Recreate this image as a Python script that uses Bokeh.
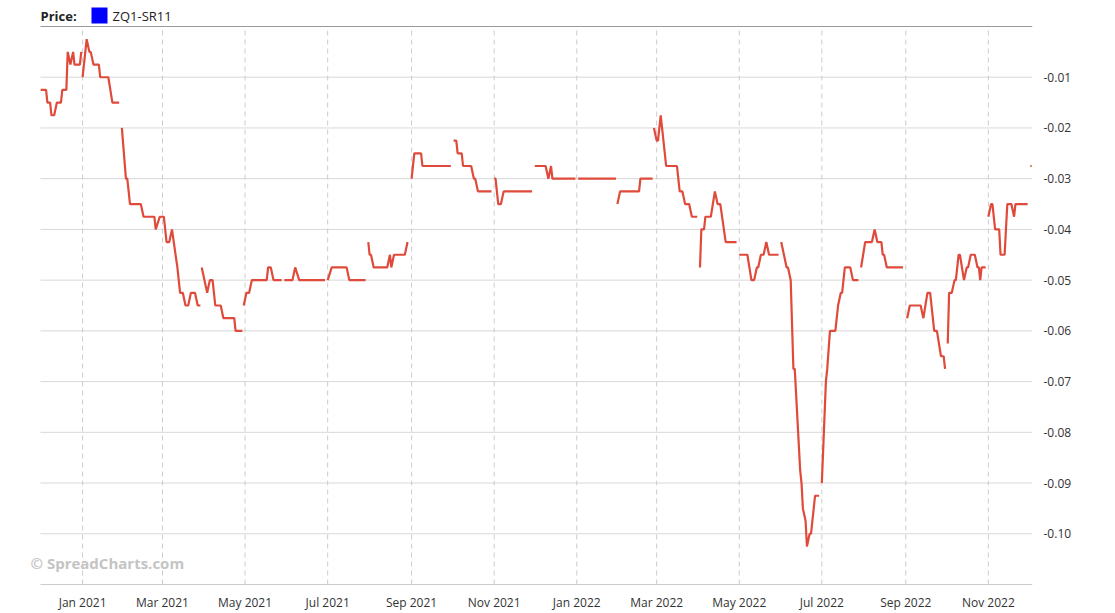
import numpy as np
import pandas as pd
from bokeh.plotting import figure
from bokeh.models import (Range1d, FixedTicker, NumeralTickFormatter, DatetimeTickFormatter,
                          Label, BoxAnnotation, ColumnDataSource)
from bokeh.embed import file_html
from bokeh.resources import INLINE

# ---------------- data ----------------
BASE_DATE = "2021-01-01"          # day offsets are counted from this date
G = None                          # gap marker (no quotes in the series)

day_offset = [
    -31, -27, -26, -24, -23, -21, -19, -16, -15, -12, -11, -9, -7, -6, -2, -1, G,
    0, 3, 5, 6, 8, 12, 13, 19, 22, 27, G,
    29, 32, 33, 35, 43, 45, 53, 54, 57, 60, 62, 64, 66, 70, 72, 74, 76, 78, 80, 83, 85, 87, G,
    88, 92, 94, 96, 98, 102, 104, 112, 113, 118, G,
    119, 121, 123, 125, 136, 137, 139, 141, 147, G,
    149, 155, 157, 160, 179, G,
    181, 184, 195, 197, 209, G,
    211, 212, 213, 215, 225, 227, 228, 230, 238, 240, G,
    243, 245, 250, 251, 272, G,
    274, 276, 277, 280, 281, 287, 289, 290, 292, 302, G,
    304, 305, 307, 309, 311, 332, G,
    334, 342, 344, 346, 347, 364, G,
    366, 394, G,
    395, 397, 411, 412, 421, G,
    422, 424, 425, 427, 428, 431, 439, 441, 443, 445, 448, 450, 454, G,
    456, 457, 459, 460, 464, 467, 469, 471, 475, 483, G,
    485, 491, 494, 496, 498, 499, 501, 503, 505, 507, 514, G,
    516, 518, 520, 521, 523, 525, 526, 530, 531, 532, 534, 535, 537, 538, 539, 541, 544, G,
    546, 549, 550, 552, 556, 558, 560, 561, 563, 567, 569, 573, G,
    575, 578, 583, 585, 587, 590, 591, 592, 594, 606, G,
    609, 611, 619, 621, 624, 626, 627, 629, 631, 634, 636, 637, G,
    639, 640, 642, 644, 645, 647, 648, 651, 653, 654, 656, 659, 661, 662, 663, 664, 667, G,
    669, 671, 672, 674, 677, 678, 681, 683, 686, 688, 689, 698, G,
    700, 701,
]

spread = [
    -0.0125, -0.0125, -0.015, -0.015, -0.0175, -0.0175, -0.015, -0.015, -0.0125, -0.0125, -0.005, -0.0075, -0.005, -0.0075, -0.0075, -0.005, G,
    -0.01, -0.0025, -0.005, -0.005, -0.0075, -0.0075, -0.01, -0.01, -0.015, -0.015, G,
    -0.02, -0.03, -0.03, -0.035, -0.035, -0.0375, -0.0375, -0.04, -0.0375, -0.0375, -0.0425, -0.0425, -0.04, -0.0475, -0.0525, -0.0525, -0.055, -0.055, -0.0525, -0.0525, -0.055, -0.055, G,
    -0.0475, -0.0525, -0.05, -0.05, -0.055, -0.055, -0.0575, -0.0575, -0.06, -0.06, G,
    -0.055, -0.0525, -0.0525, -0.05, -0.05, -0.0475, -0.0475, -0.05, -0.05, G,
    -0.05, -0.05, -0.0475, -0.05, -0.05, G,
    -0.05, -0.0475, -0.0475, -0.05, -0.05, G,
    -0.0425, -0.045, -0.045, -0.0475, -0.0475, -0.045, -0.0475, -0.045, -0.045, -0.0425, G,
    -0.03, -0.025, -0.025, -0.0275, -0.0275, G,
    -0.0225, -0.0225, -0.025, -0.025, -0.0275, -0.0275, -0.03, -0.03, -0.0325, -0.0325, G,
    -0.03, -0.03, -0.035, -0.035, -0.0325, -0.0325, G,
    -0.0275, -0.0275, -0.03, -0.0275, -0.03, -0.03, G,
    -0.03, -0.03, G,
    -0.035, -0.0325, -0.0325, -0.03, -0.03, G,
    -0.02, -0.0225, -0.0225, -0.0175, -0.02, -0.0275, -0.0275, -0.0325, -0.0325, -0.035, -0.035, -0.0375, -0.0375, G,
    -0.0475, -0.04, -0.04, -0.0375, -0.0375, -0.0325, -0.035, -0.035, -0.0425, -0.0425, G,
    -0.045, -0.045, -0.05, -0.05, -0.0475, -0.0475, -0.045, -0.045, -0.0425, -0.045, -0.045, G,
    -0.0425, -0.045, -0.0475, -0.0475, -0.05, -0.0675, -0.0675, -0.0875, -0.09, -0.095, -0.0975, -0.1025, -0.10, -0.10, -0.0975, -0.0925, -0.0925, G,
    -0.09, -0.07, -0.0675, -0.06, -0.06, -0.055, -0.0525, -0.0525, -0.0475, -0.0475, -0.05, -0.05, G,
    -0.0475, -0.0425, -0.0425, -0.04, -0.0425, -0.0425, -0.045, -0.045, -0.0475, -0.0475, G,
    -0.0575, -0.055, -0.055, -0.0575, -0.0525, -0.0525, -0.055, -0.06, -0.06, -0.065, -0.065, -0.0675, G,
    -0.0625, -0.0525, -0.0525, -0.05, -0.05, -0.045, -0.045, -0.05, -0.0475, -0.0475, -0.045, -0.045, -0.0475, -0.0475, -0.05, -0.0475, -0.0475, G,
    -0.0375, -0.035, -0.035, -0.04, -0.04, -0.045, -0.045, -0.035, -0.035, -0.0375, -0.035, -0.035, G,
    -0.0275, -0.0275,
]

x_tick_dates = ["2021-01-01", "2021-03-01", "2021-05-01", "2021-07-01", "2021-09-01", "2021-11-01",
                "2022-01-01", "2022-03-01", "2022-05-01", "2022-07-01", "2022-09-01", "2022-11-01"]
y_ticks = [-0.10, -0.09, -0.08, -0.07, -0.06, -0.05, -0.04, -0.03, -0.02, -0.01]
y_min, y_max = -0.11, 0.0
series_name = "ZQ1-SR11"

# ---------------- build ----------------
base = pd.Timestamp(BASE_DATE)
def to_ms(d):
    return (base + pd.Timedelta(days=d)).value / 1e6

xs = np.array([np.nan if d is None else to_ms(d) for d in day_offset])
ys = np.array([np.nan if v is None else v for v in spread], dtype=float)
src = ColumnDataSource(dict(x=xs, y=ys))

FONT = "Open Sans"
# plotting area (where the grid lives) and the extra room around it kept inside the frame
PW, PH = 992, 558
EXTRA_LEFT, EXTRA_TOP, EXTRA_BOTTOM = 12, 24, 1
FW, FH = PW + EXTRA_LEFT, PH + EXTRA_TOP + EXTRA_BOTTOM

x0_day, x1_day = -31.1, 701.6
day_per_px = (x1_day - x0_day) / PW
val_per_px = (y_max - y_min) / PH
x_left = to_ms(x0_day)
x_right = to_ms(x1_day)

p = figure(frame_width=FW, frame_height=FH, output_backend="svg", toolbar_location=None,
           x_axis_type="datetime", y_axis_location="right",
           x_range=Range1d(to_ms(x0_day - EXTRA_LEFT * day_per_px), x_right),
           y_range=Range1d(y_min - EXTRA_BOTTOM * val_per_px, y_max + EXTRA_TOP * val_per_px),
           min_border_left=40 - EXTRA_LEFT, min_border_right=78,
           min_border_top=26 - EXTRA_TOP, min_border_bottom=24)
p.outline_line_color = None
p.background_fill_color = "white"
p.xgrid.visible = False
p.ygrid.visible = False

# horizontal grid lines
p.segment(x0=[x_left] * len(y_ticks), x1=[x_right] * len(y_ticks), y0=y_ticks, y1=y_ticks,
          line_color="#d8d8d8", line_width=1)
# vertical dashed grid lines
xt = [pd.Timestamp(d).value / 1e6 for d in x_tick_dates]
p.segment(x0=xt, x1=xt, y0=[y_min] * len(xt), y1=[y_max] * len(xt),
          line_color="#cccccc", line_width=1, line_dash="5 4")
# top border and bottom axis line
p.segment(x0=[x_left], x1=[x_right], y0=[y_max], y1=[y_max], line_color="#999999", line_width=1)
p.segment(x0=[x_left], x1=[x_right], y0=[y_min], y1=[y_min], line_color="#cccccc", line_width=1)

p.line("x", "y", source=src, line_color="#e04a3a", line_width=2.2)

# x axis
p.xaxis.ticker = FixedTicker(ticks=xt)
fmt = "%b %Y"
p.xaxis.formatter = DatetimeTickFormatter(days=fmt, months=fmt, years=fmt)
p.xaxis.axis_line_color = None
p.xaxis.major_tick_line_color = None
p.xaxis.minor_tick_line_color = None
p.xaxis.major_label_standoff = 2
p.xaxis.major_label_text_font = FONT
p.xaxis.major_label_text_font_size = "12px"
p.xaxis.major_label_text_color = "#333333"

# y axis
p.yaxis.ticker = FixedTicker(ticks=y_ticks)
p.yaxis.formatter = NumeralTickFormatter(format="0.00")
p.yaxis.axis_line_color = None
p.yaxis.major_tick_line_color = None
p.yaxis.minor_tick_line_color = None
p.yaxis.major_label_standoff = 5
p.yaxis.major_label_text_font = FONT
p.yaxis.major_label_text_font_size = "12px"
p.yaxis.major_label_text_color = "#333333"

# legend header (screen units measured from the frame's bottom-left corner)
top_mid = FH - 13
p.add_layout(Label(x=EXTRA_LEFT, y=top_mid, x_units="screen", y_units="screen", text="Price:",
                   text_font=FONT, text_font_style="bold", text_font_size="13px",
                   text_color="#222222", text_baseline="middle"))
p.add_layout(BoxAnnotation(left=EXTRA_LEFT + 51, right=EXTRA_LEFT + 67,
                           bottom=top_mid - 8, top=top_mid + 8,
                           left_units="screen", right_units="screen",
                           bottom_units="screen", top_units="screen",
                           fill_color="#0000ff", fill_alpha=1.0, line_color=None))
p.add_layout(Label(x=EXTRA_LEFT + 72, y=top_mid, x_units="screen", y_units="screen",
                   text=series_name, text_font=FONT, text_font_size="13px",
                   text_color="#222222", text_baseline="middle"))

# watermark
p.add_layout(Label(x=EXTRA_LEFT - 10, y=EXTRA_BOTTOM + 22, x_units="screen", y_units="screen",
                   text="© SpreadCharts.com", text_font=FONT, text_font_style="bold",
                   text_font_size="15px", text_color="#c4c4c4", text_baseline="middle"))

open("out.html", "w").write(file_html(p, INLINE))
